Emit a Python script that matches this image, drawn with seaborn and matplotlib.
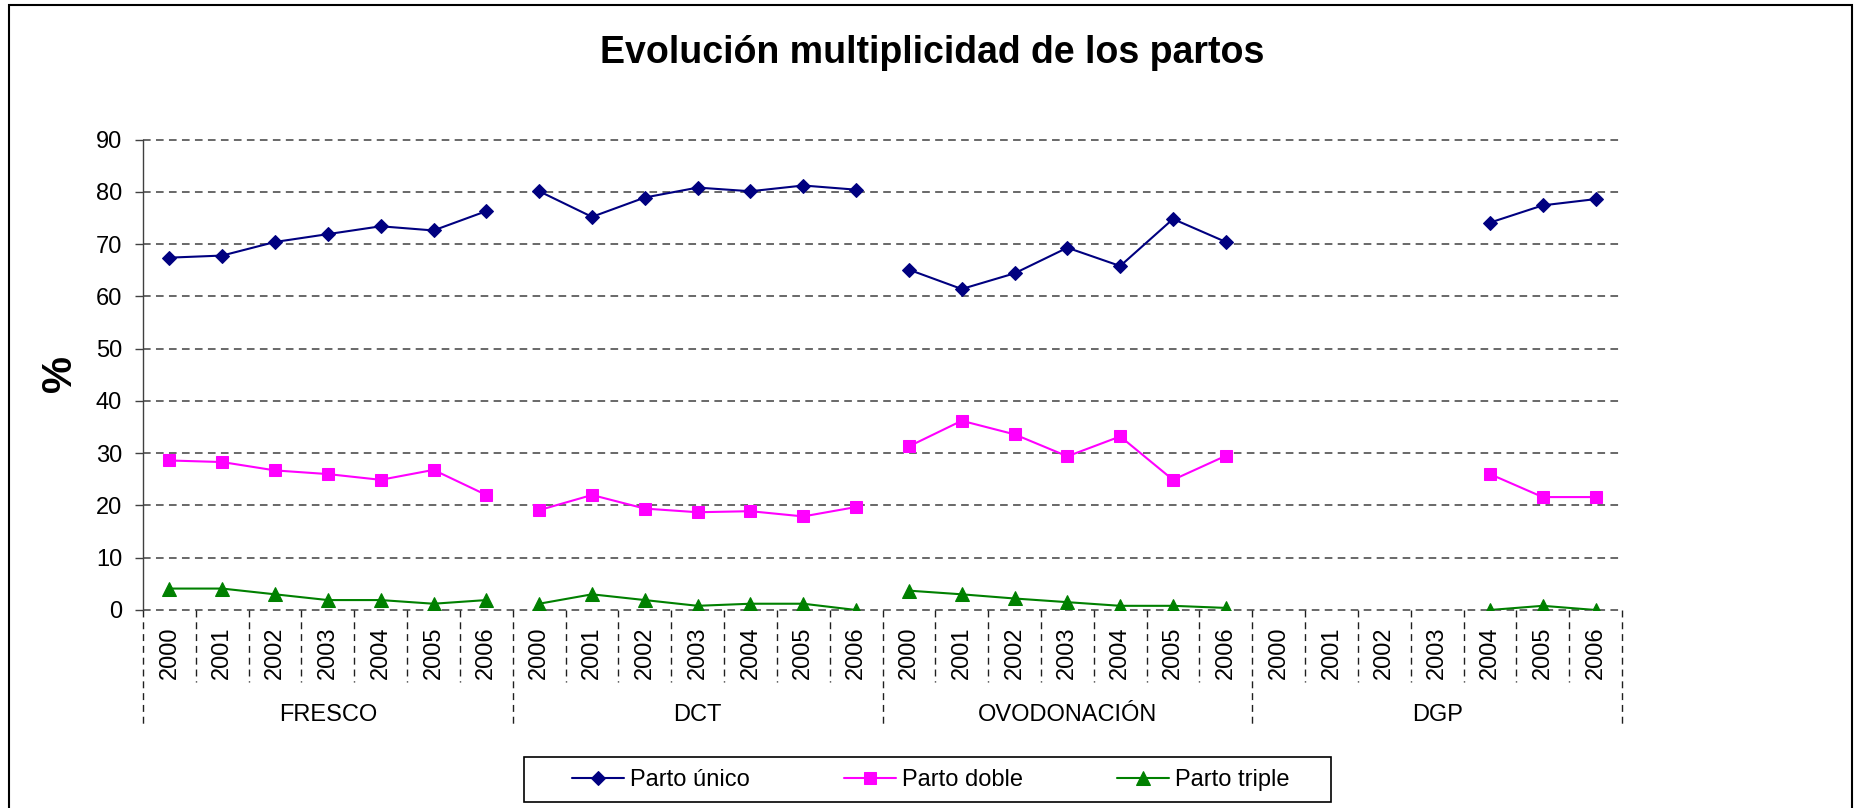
import matplotlib.pyplot as plt
import numpy as np
import pandas as pd
import seaborn as sns
from matplotlib.patches import Rectangle

grupos = ["FRESCO", "DCT", "OVODONACIÓN", "DGP"]
anios = ["2000", "2001", "2002", "2003", "2004", "2005", "2006"]
series = ["Parto único", "Parto doble", "Parto triple"]

# valores por grupo (2000..2006), NaN = sin dato
parto_unico = [
    [67.4, 67.8, 70.4, 71.9, 73.4, 72.6, 76.3],
    [80.1, 75.2, 78.9, 80.8, 80.1, 81.2, 80.4],
    [65.1, 61.4, 64.4, 69.3, 65.8, 74.8, 70.4],
    [np.nan, np.nan, np.nan, np.nan, 74.1, 77.4, 78.6],
]
parto_doble = [
    [28.6, 28.3, 26.7, 26.0, 24.9, 26.8, 22.0],
    [19.1, 22.0, 19.4, 18.7, 18.9, 17.9, 19.7],
    [31.3, 36.2, 33.6, 29.4, 33.2, 24.9, 29.5],
    [np.nan, np.nan, np.nan, np.nan, 26.0, 21.6, 21.6],
]
parto_triple = [
    [4.1, 4.1, 3.0, 1.9, 1.9, 1.2, 1.9],
    [1.2, 3.0, 1.9, 0.8, 1.2, 1.2, 0.0],
    [3.7, 3.0, 2.2, 1.5, 0.8, 0.8, 0.4],
    [np.nan, np.nan, np.nan, np.nan, 0.0, 0.8, 0.0],
]

colores = {"Parto único": "#000080", "Parto doble": "#FF00FF", "Parto triple": "#008000"}
marcadores = {"Parto único": "D", "Parto doble": "s", "Parto triple": "^"}
tamanos = {"D": 7.5, "s": 8.5, "^": 9.5}


def main():
    sns.set_style("white", {"text.color": "black", "xtick.color": "black",
                            "ytick.color": "black"})
    plt.rcParams["font.family"] = ["Liberation Sans", "DejaVu Sans"]

    filas = []
    for nombre, valores in zip(series, [parto_unico, parto_doble, parto_triple]):
        for g, grupo in enumerate(grupos):
            for a, anio in enumerate(anios):
                filas.append(
                    {"serie": nombre, "grupo": grupo, "anio": anio,
                     "pos": g * len(anios) + a, "valor": valores[g][a]}
                )
    df = pd.DataFrame(filas)
    n = len(df["pos"].unique())
    df = df.dropna()

    fig = plt.figure(figsize=(18.54, 8.08), dpi=100)
    ax = fig.add_axes([143 / 1854, 1 - 610 / 808, (1622 - 143) / 1854, (610 - 139.5) / 808])

    sns.lineplot(
        data=df, x="pos", y="valor", hue="serie", style="serie", units="grupo",
        estimator=None, palette=colores, markers=marcadores, dashes=False,
        linewidth=1.5, legend=False, ax=ax, zorder=3,
    )
    handles = {}
    for line in ax.lines:
        m = line.get_marker()
        line.set_markersize(tamanos.get(m, 8))
        line.set_markeredgecolor(line.get_color())
        line.set_markerfacecolor(line.get_color())
        for nombre, mk in marcadores.items():
            if mk == m and nombre not in handles:
                handles[nombre] = line

    ax.set_xlim(-0.5, n - 0.5)
    ax.set_ylim(0, 90)
    ax.set_yticks(range(0, 91, 10))
    ax.set_xticks(range(n))
    ax.set_xticklabels(anios * len(grupos), rotation=90, va="top")
    ax.tick_params(axis="x", which="major", length=0, pad=12, labelsize=17)
    ax.tick_params(axis="y", length=6, width=1, color="#404040", direction="out",
                   left=True, pad=9, labelsize=17, labelcolor="black")
    ax.set_xlabel("")
    ax.set_ylabel("")

    for s in ["top", "right", "bottom"]:
        ax.spines[s].set_visible(False)
    ax.spines["left"].set_color("#404040")
    ax.spines["left"].set_linewidth(1)

    for v in range(0, 91, 10):
        ax.axhline(v, color="#404040", lw=1.1, ls=(0, (5, 3.5)), zorder=1, clip_on=False)

    # separadores del eje de categorias
    trans = ax.get_xaxis_transform()
    alto_ax = 610 - 139.5
    for b in np.arange(-0.5, n, 1):
        borde = abs((b + 0.5) % len(anios)) < 1e-9
        y_fin = -(725 - 610) / alto_ax if borde else -(682 - 610) / alto_ax
        ax.plot([b, b], [0, y_fin], transform=trans, color="#202020", lw=1,
                ls=(0, (5, 3.5)), clip_on=False)
    for g, grupo in enumerate(grupos):
        ax.text(g * len(anios) + (len(anios) - 1) / 2, -(715 - 610) / alto_ax, grupo,
                transform=trans, ha="center", va="center", fontsize=17)

    fig.text(932 / 1854, 1 - 53 / 808, "Evolución multiplicidad de los partos",
             ha="center", va="center", fontsize=27, fontweight="bold")
    fig.text(60 / 1854, 1 - 374 / 808, "%", rotation=90, ha="center", va="center",
             fontsize=30, fontweight="bold")

    fig.legend(
        [handles[s] for s in series], series, loc="center",
        bbox_to_anchor=(931 / 1854, 1 - 780 / 808), ncol=3, fontsize=17,
        frameon=False, handlelength=2.2, handletextpad=0.25, columnspacing=4.0,
    )
    fig.patches.append(Rectangle((524 / 1854, 1 - 802 / 808), (1331 - 524) / 1854,
                                 45 / 808, transform=fig.transFigure, fill=False,
                                 edgecolor="black", lw=1.2))

    fig.patches.append(Rectangle((9 / 1854, -0.05), (1852 - 9) / 1854, 1.05 - 5 / 808,
                                 transform=fig.transFigure, fill=False,
                                 edgecolor="black", lw=1.5))

    fig.savefig("out.png", dpi=100)


if __name__ == "__main__":
    main()
